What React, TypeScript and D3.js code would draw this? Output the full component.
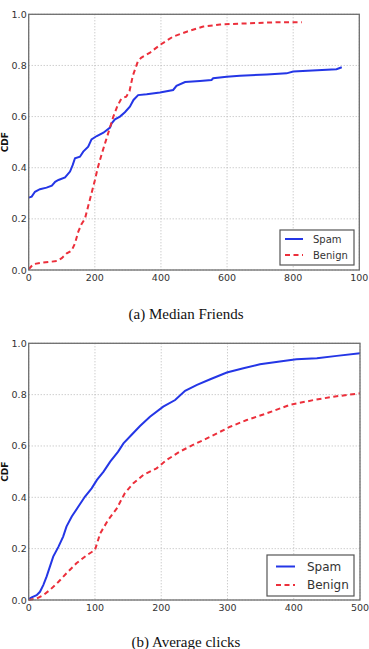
import React, { useEffect, useRef } from 'react';
import * as d3 from 'd3';

// (a) Median Friends
const friendsSpamX = [0, 9, 19, 34, 54, 70, 80, 90, 110, 125, 133, 140, 155, 165, 180, 190, 206, 226, 246, 251, 261, 276, 291, 306, 317, 331, 357, 397, 437, 447, 473, 518, 553, 558, 599, 639, 720, 780, 800, 931, 947];
const friendsSpamY = [0.283, 0.287, 0.306, 0.316, 0.322, 0.33, 0.345, 0.352, 0.362, 0.385, 0.41, 0.437, 0.443, 0.463, 0.482, 0.511, 0.524, 0.537, 0.557, 0.574, 0.589, 0.6, 0.617, 0.639, 0.665, 0.684, 0.687, 0.694, 0.704, 0.72, 0.735, 0.739, 0.743, 0.75, 0.756, 0.76, 0.765, 0.769, 0.776, 0.785, 0.793];
const friendsBenignX = [0, 14, 44, 85, 100, 115, 130, 140, 150, 160, 170, 180, 190, 200, 209, 220, 232, 244, 256, 268, 280, 295, 305, 315, 330, 340, 367, 397, 437, 478, 528, 579, 669, 750, 826];
const friendsBenignY = [0.003, 0.023, 0.029, 0.035, 0.046, 0.065, 0.076, 0.104, 0.15, 0.18, 0.2, 0.25, 0.3, 0.35, 0.4, 0.45, 0.5, 0.55, 0.6, 0.64, 0.67, 0.678, 0.7, 0.76, 0.815, 0.83, 0.85, 0.88, 0.913, 0.932, 0.952, 0.96, 0.965, 0.969, 0.969];
const friendsTicks = [0, 200, 400, 600, 800, 1000];
const friendsTickLabels = ['0', '200', '400', '600', '800', '100'];

// (b) Average clicks
const clicksSpamX = [0, 4.5, 12, 17, 22, 27, 32, 37, 45, 52, 57, 65, 75, 85, 95, 103, 113, 123, 135, 143, 155, 168, 183, 203, 221, 236, 254, 274, 299, 324, 349, 379, 404, 435, 465, 500];
const clicksSpamY = [0.003, 0.01, 0.019, 0.032, 0.058, 0.091, 0.13, 0.169, 0.208, 0.247, 0.286, 0.325, 0.364, 0.403, 0.435, 0.468, 0.5, 0.539, 0.578, 0.61, 0.643, 0.678, 0.714, 0.753, 0.779, 0.815, 0.838, 0.86, 0.886, 0.903, 0.918, 0.929, 0.938, 0.942, 0.951, 0.961];
const clicksBenignX = [0, 12, 22, 32, 45, 57, 72, 88, 100, 108, 120, 133, 145, 158, 173, 193, 208, 228, 248, 274, 304, 329, 359, 394, 430, 460, 500];
const clicksBenignY = [0, 0.006, 0.019, 0.039, 0.071, 0.104, 0.143, 0.175, 0.195, 0.26, 0.312, 0.357, 0.416, 0.455, 0.487, 0.513, 0.545, 0.578, 0.604, 0.636, 0.675, 0.701, 0.727, 0.76, 0.779, 0.792, 0.805];
const clicksTicks = [0, 100, 200, 300, 400, 500];
const clicksTickLabels = ['0', '100', '200', '300', '400', '500'];

const yTicks = [0, 0.2, 0.4, 0.6, 0.8, 1.0];
const seriesNames = ['Spam', 'Benign'];
const captions = ['(a) Median Friends', '(b) Average clicks'];

const blue = '#2436e6';
const red = '#ec2f3b';

function drawPanel(svg, opts) {
    const { top, bottom, left, right, xMax, xTicks, xLabels, spamX, spamY, benignX, benignY, legend, caption, captionY } = opts;

    const x = d3.scaleLinear().domain([0, xMax]).range([left, right]);
    const y = d3.scaleLinear().domain([0, 1]).range([bottom, top]);
    const g = svg.append('g');

    // grid
    g.selectAll('.vgrid')
        .data(xTicks)
        .enter()
        .append('line')
        .attr('x1', d => x(d)).attr('x2', d => x(d))
        .attr('y1', top).attr('y2', bottom)
        .attr('stroke', '#b8b8b8')
        .attr('stroke-dasharray', '1,2');
    g.selectAll('.hgrid')
        .data(yTicks)
        .enter()
        .append('line')
        .attr('x1', left).attr('x2', right)
        .attr('y1', d => y(d)).attr('y2', d => y(d))
        .attr('stroke', '#b8b8b8')
        .attr('stroke-dasharray', '1,2');

    const line = d3.line()
        .x(d => x(d[0]))
        .y(d => y(d[1]));

    g.append('path')
        .datum(spamX.map((v, i) => [v, spamY[i]]))
        .attr('fill', 'none')
        .attr('stroke', blue)
        .attr('stroke-width', 2)
        .attr('d', line);

    g.append('path')
        .datum(benignX.map((v, i) => [v, benignY[i]]))
        .attr('fill', 'none')
        .attr('stroke', red)
        .attr('stroke-width', 2)
        .attr('stroke-dasharray', '5,3.5')
        .attr('d', line);

    // frame
    g.append('rect')
        .attr('x', left).attr('y', top)
        .attr('width', right - left).attr('height', bottom - top)
        .attr('fill', 'none')
        .attr('stroke', '#6e6e6e')
        .attr('stroke-width', 1.3);

    // x tick labels
    g.selectAll('.xt')
        .data(xTicks)
        .enter()
        .append('text')
        .attr('x', d => x(d))
        .attr('y', bottom + 11)
        .attr('text-anchor', 'middle')
        .style('font-family', 'DejaVu Sans')
        .style('font-size', '9.5px')
        .style('fill', '#333')
        .text((d, i) => xLabels[i]);

    // y tick labels
    g.selectAll('.yt')
        .data(yTicks)
        .enter()
        .append('text')
        .attr('x', left - 2)
        .attr('y', d => y(d) + 3.5)
        .attr('text-anchor', 'end')
        .style('font-family', 'DejaVu Sans')
        .style('font-size', '9.5px')
        .style('fill', '#333')
        .text(d => d.toFixed(1));

    // y label
    g.append('text')
        .attr('transform', `translate(8,${(top + bottom) / 2}) rotate(-90)`)
        .attr('text-anchor', 'middle')
        .style('font-family', 'DejaVu Sans')
        .style('font-size', '9px')
        .style('font-weight', 'bold')
        .style('fill', '#111')
        .text('CDF');

    // legend
    const lg = g.append('g');
    lg.append('rect')
        .attr('x', legend.x).attr('y', legend.y)
        .attr('width', legend.w).attr('height', legend.h)
        .attr('fill', '#fff')
        .attr('stroke', '#555')
        .attr('stroke-width', 1.2);
    seriesNames.forEach((name, i) => {
        const ly = legend.y + legend.rowY[i];
        lg.append('line')
            .attr('x1', legend.x + legend.lx0).attr('x2', legend.x + legend.lx1)
            .attr('y1', ly).attr('y2', ly)
            .attr('stroke', i === 0 ? blue : red)
            .attr('stroke-width', 2)
            .attr('stroke-dasharray', i === 0 ? null : '5,3.5');
        lg.append('text')
            .attr('x', legend.x + legend.tx)
            .attr('y', ly + legend.fs * 0.36)
            .style('font-family', 'DejaVu Sans')
            .style('font-size', `${legend.fs}px`)
            .style('fill', '#333')
            .text(name);
    });

    // caption
    svg.append('text')
        .attr('x', 186)
        .attr('y', captionY)
        .attr('text-anchor', 'middle')
        .style('font-family', 'Liberation Serif')
        .style('font-size', '15px')
        .style('fill', '#111')
        .text(caption);
}

export default function App() {
    const svgRef = useRef(null);

    useEffect(() => {
        const svg = d3.select(svgRef.current);
        svg.selectAll('*').remove();

        drawPanel(svg, {
            top: 14.3, bottom: 270, left: 28.7, right: 359.3,
            xMax: 1000, xTicks: friendsTicks, xLabels: friendsTickLabels,
            spamX: friendsSpamX, spamY: friendsSpamY,
            benignX: friendsBenignX, benignY: friendsBenignY,
            legend: { x: 280, y: 230, w: 74, h: 35, rowY: [9, 25], lx0: 5, lx1: 23, tx: 33, fs: 10 },
            caption: captions[0], captionY: 319,
        });

        drawPanel(svg, {
            top: 343.3, bottom: 600, left: 28.7, right: 360,
            xMax: 500, xTicks: clicksTicks, xLabels: clicksTickLabels,
            spamX: clicksSpamX, spamY: clicksSpamY,
            benignX: clicksBenignX, benignY: clicksBenignY,
            legend: { x: 267, y: 555, w: 87, h: 41, rowY: [11.5, 30], lx0: 9, lx1: 28, tx: 40, fs: 12 },
            caption: captions[1], captionY: 647,
        });
    }, []);

    return (
        <svg
            ref={svgRef}
            width={369}
            height={649}
            style={{ position: 'absolute', left: 0, top: 0, background: '#fff' }}
        ></svg>
    );
}
